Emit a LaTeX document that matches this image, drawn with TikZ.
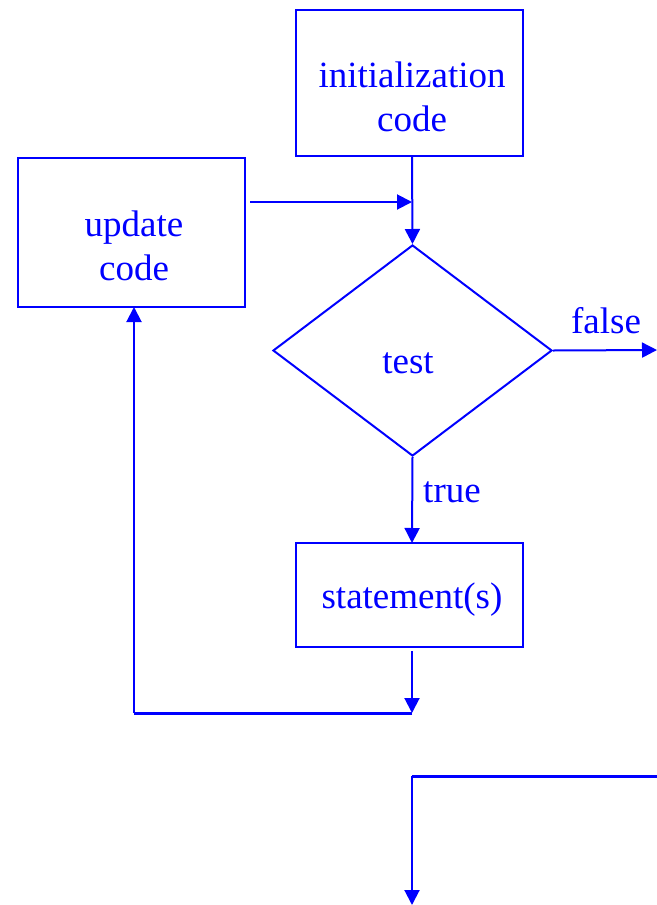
\documentclass[tikz,border=0pt]{standalone}
\usepackage{fontspec}
\setmainfont{Liberation Serif}
\usetikzlibrary{arrows.meta,shapes.geometric}
\definecolor{fb}{RGB}{0,0,255}
\tikzset{
  box/.style={draw=fb,line width=1pt,rectangle,inner sep=0pt},
  txt/.style={text=fb,font=\fontsize{18.5}{22}\selectfont,align=center,inner sep=0pt},
  conn/.style={draw=fb,line width=1pt,-{Triangle[width=7.5pt,length=7.5pt]}},
  thick conn/.style={draw=fb,line width=1.5pt},
}
\begin{document}
\begin{tikzpicture}[x=0.5pt,y=-0.5pt]
\useasboundingbox (0,0) rectangle (657,905);
% boxes
\node[box,minimum width=113.5pt,minimum height=73pt] (init) at (409.5,83) {};
\node[txt] (initT) at (412,97) {initialization\\code};
\node[box,minimum width=113.5pt,minimum height=74.5pt] (upd) at (131.5,232.5) {};
\node[txt] (updT) at (134,246) {update\\code};
\node[draw=fb,line width=1pt,diamond,inner sep=0pt,minimum width=139.5pt,minimum height=105.5pt] (test) at (412.5,350.5) {};
\node[txt] (testT) at (408,363) {test};
\node[box,minimum width=113.5pt,minimum height=52pt] (stmt) at (409.5,595) {};
\node[txt] (stmtT) at (412,600) {statement(s)};
\node[txt] (falseT) at (606,321) {false};
\node[txt] (trueT) at (452,492) {true};
% coordinates
\coordinate (initB) at (412,156);
\coordinate (hin) at (250,202);
\coordinate (hjoin) at (412,202);
\coordinate (fout) at (657,350);
\coordinate (testB) at (412,456);
\coordinate (stmtTop) at (412,543);
\coordinate (s1) at (412,651);
\coordinate (s2) at (412,713);
\coordinate (l1) at (134,713);
\coordinate (updB) at (134,307);
\coordinate (b1) at (657,776);
\coordinate (b2) at (412,776);
\coordinate (b3) at (412,905);
% connectors
\draw[conn] (initB) -- (test.north);
\draw[conn] (hin) -- (hjoin);
\draw[conn] (test.east) -- (fout);
\draw[conn] (test.south) -- (stmtTop);
\draw[conn] (s1) -- (s2);
\draw[thick conn] (s2) -- (l1);
\draw[conn] (l1) -- (updB);
\draw[thick conn] (b1) -- (b2);
\draw[conn] (b2) -- (b3);
\end{tikzpicture}
\end{document}
